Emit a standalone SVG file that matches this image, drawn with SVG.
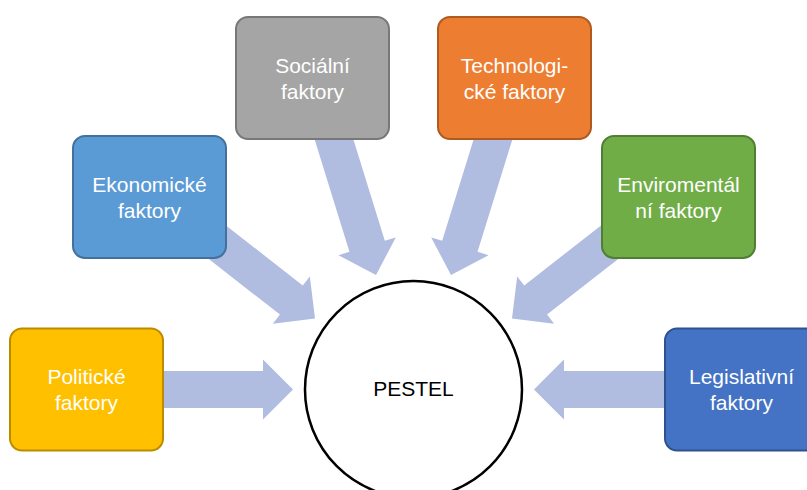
<svg xmlns="http://www.w3.org/2000/svg" xmlns:xlink="http://www.w3.org/1999/xlink" width="807" height="490" viewBox="0 0 807 490">
<style>
.arrow{fill:#B0BCE0;}
.box{stroke-width:2;}
.lbl{font-family:"Liberation Sans",Arial,sans-serif;font-size:21px;fill:#ffffff;text-anchor:middle;}
.center{font-family:"Liberation Sans",Arial,sans-serif;font-size:21px;fill:#000000;text-anchor:middle;}
</style>
<defs>
<polygon id="arr" points="-160,-18.5 -30,-18.5 -30,-30 0,0 -30,30 -30,18.5 -160,18.5"/>
</defs>
<rect width="807" height="490" fill="#ffffff"/>
<g id="connectors">
<use xlink:href="#arr" class="arrow" transform="translate(293,389.5)"/>
<use xlink:href="#arr" class="arrow" transform="translate(315,318.5) rotate(38)"/>
<use xlink:href="#arr" class="arrow" transform="translate(376,275) rotate(72.8)"/>
<use xlink:href="#arr" class="arrow" transform="translate(451,275) rotate(107.2)"/>
<use xlink:href="#arr" class="arrow" transform="translate(512,318.5) rotate(142)"/>
<use xlink:href="#arr" class="arrow" transform="translate(534,389.5) rotate(180)"/>
</g>
<g id="politicke">
<rect class="box" x="10" y="328.5" width="153" height="122" rx="12" fill="#FFC000" stroke="#BC8C00"/>
<text class="lbl" x="86.5" y="384">Politické</text>
<text class="lbl" x="86.5" y="410">faktory</text>
</g>
<g id="ekonomicke">
<rect class="box" x="73" y="136" width="153" height="122" rx="12" fill="#5B9BD5" stroke="#41719C"/>
<text class="lbl" x="149.5" y="192">Ekonomické</text>
<text class="lbl" x="149.5" y="218">faktory</text>
</g>
<g id="socialni">
<rect class="box" x="236" y="17" width="153" height="122" rx="12" fill="#A5A5A5" stroke="#787878"/>
<text class="lbl" x="312.5" y="73">Sociální</text>
<text class="lbl" x="312.5" y="99">faktory</text>
</g>
<g id="technologicke">
<rect class="box" x="438" y="17" width="153" height="122" rx="12" fill="#ED7D31" stroke="#AE5A21"/>
<text class="lbl" x="514.5" y="73">Technologi-</text>
<text class="lbl" x="514.5" y="99">cké faktory</text>
</g>
<g id="enviromentalni">
<rect class="box" x="602" y="136" width="153" height="122" rx="12" fill="#70AD47" stroke="#507E32"/>
<text class="lbl" x="678.5" y="192">Enviromentál</text>
<text class="lbl" x="678.5" y="218">ní faktory</text>
</g>
<g id="legislativni">
<rect class="box" x="665" y="328.5" width="153" height="122" rx="12" fill="#4472C4" stroke="#2F528F"/>
<text class="lbl" x="741.5" y="384">Legislativní</text>
<text class="lbl" x="741.5" y="410">faktory</text>
</g>
<g id="pestel">
<circle cx="413.5" cy="389.5" r="108.5" fill="#ffffff" stroke="#000000" stroke-width="2.5"/>
<text class="center" x="413.5" y="396">PESTEL</text>
</g>
</svg>
